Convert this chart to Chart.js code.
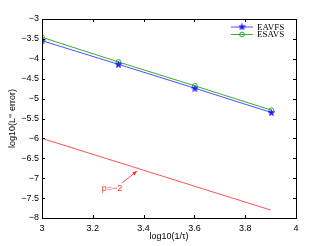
<!DOCTYPE html>
<html><head><meta charset="utf-8">
<script src="https://cdn.jsdelivr.net/npm/chart.js@4/dist/chart.umd.min.js"></script>
<style>html,body{margin:0;padding:0;background:#fff}#wrap{width:327px;height:246px}</style>
</head><body><div id="wrap"><canvas id="c" width="327" height="246"></canvas></div>
<script>
const xVals = [3, 3.301, 3.602, 3.903];
const eavfs = [-3.545, -4.14, -4.74, -5.35];
const esavs = [-3.46, -4.08, -4.68, -5.29];
const refX = [3, 3.9];
const refY = [-6, -7.8];
const seriesNames = ['EAVFS', 'ESAVS'];
const annotation = {text: 'p=\u22122', x: 3.276, y: -7.25, fromX: 3.315, fromY: -7.12, toX: 3.374, toY: -6.82};
const xTitle = 'log10(1/\u03c4)';
const yTitleParts = ['log10(L', '\u221e', ' error)'];

function pentagram(color){
  const c = document.createElement('canvas'); c.width = 7; c.height = 7;
  const g = c.getContext('2d'); g.strokeStyle = color; g.lineWidth = 0.8;
  g.beginPath();
  for (let i = 0; i < 10; i++) {
    const r = i % 2 ? 1.4 : 3.3; const a = -Math.PI/2 + i*Math.PI/5;
    const px = 3.5 + r*Math.cos(a), py = 3.8 + r*Math.sin(a);
    i ? g.lineTo(px, py) : g.moveTo(px, py);
  }
  g.closePath(); g.fillStyle = color; g.fill(); g.stroke();
  return c;
}
const starImg = pentagram('#2020ff');

const L = 42, R = 296, T = 19, B = 218;

const plug = {
  id: 'matlab',
  afterDraw(chart){
    const ctx = chart.ctx, xs = chart.scales.x, ys = chart.scales.y;
    ctx.save();
    ctx.strokeStyle = '#000'; ctx.lineWidth = 1;
    ctx.strokeRect(xs.left + 0.5, ys.top + 0.5, xs.right - xs.left, ys.bottom - ys.top);
    ctx.beginPath();
    xs.ticks.forEach(t => { const p = Math.round(xs.getPixelForValue(t.value)) + 0.5;
      ctx.moveTo(p, ys.bottom); ctx.lineTo(p, ys.bottom - 3);
      ctx.moveTo(p, ys.top); ctx.lineTo(p, ys.top + 3); });
    ys.ticks.forEach(t => { const p = Math.round(ys.getPixelForValue(t.value)) + 0.5;
      ctx.moveTo(xs.left, p); ctx.lineTo(xs.left + 3, p);
      ctx.moveTo(xs.right, p); ctx.lineTo(xs.right - 3, p); });
    ctx.stroke();
    // axis titles
    ctx.fillStyle = '#000'; ctx.font = '9px "Liberation Sans", Arial, sans-serif';
    ctx.textAlign = 'center'; ctx.textBaseline = 'middle';
    ctx.fillText(xTitle, (xs.left + xs.right)/2, 237);
    ctx.save(); ctx.translate(13, (ys.top + ys.bottom)/2); ctx.rotate(-Math.PI/2);
    ctx.textAlign = 'left';
    const big = '9px "Liberation Sans", Arial, sans-serif', small = '6px "Liberation Sans", Arial, sans-serif';
    ctx.font = big; const w0 = ctx.measureText(yTitleParts[0]).width, w2 = ctx.measureText(yTitleParts[2]).width;
    ctx.font = small; const w1 = ctx.measureText(yTitleParts[1]).width;
    let x0 = -(w0 + w1 + w2)/2;
    ctx.font = big; ctx.fillText(yTitleParts[0], x0, 0); x0 += w0;
    ctx.font = small; ctx.fillText(yTitleParts[1], x0, -3); x0 += w1;
    ctx.font = big; ctx.fillText(yTitleParts[2], x0, 0);
    ctx.restore();
    // annotation
    ctx.fillStyle = '#ff3030'; ctx.strokeStyle = '#ff3030'; ctx.lineWidth = 0.9;
    ctx.font = '9px "Liberation Sans", Arial, sans-serif';
    ctx.fillText(annotation.text, xs.getPixelForValue(annotation.x), ys.getPixelForValue(annotation.y));
    const x1 = xs.getPixelForValue(annotation.fromX), y1 = ys.getPixelForValue(annotation.fromY);
    const x2 = xs.getPixelForValue(annotation.toX), y2 = ys.getPixelForValue(annotation.toY);
    ctx.beginPath(); ctx.moveTo(x1, y1); ctx.lineTo(x2, y2); ctx.stroke();
    const a = Math.atan2(y2 - y1, x2 - x1);
    ctx.beginPath(); ctx.moveTo(x2, y2);
    ctx.lineTo(x2 - 5*Math.cos(a - 0.4), y2 - 5*Math.sin(a - 0.4));
    ctx.lineTo(x2 - 5*Math.cos(a + 0.4), y2 - 5*Math.sin(a + 0.4));
    ctx.closePath(); ctx.fill();
    // legend
    ctx.font = '9px "Liberation Serif", "Times New Roman", serif';
    ctx.textAlign = 'left';
    const items = [{c:'#3a3aff', m:'star'}, {c:'#20a020', m:'circle'}];
    items.forEach((it, i) => {
      const y = 27 + i*7.5;
      ctx.strokeStyle = it.c; ctx.lineWidth = 0.9;
      ctx.beginPath(); ctx.moveTo(231, y); ctx.lineTo(253, y); ctx.stroke();
      if (it.m === 'star') ctx.drawImage(starImg, 242 - 3.5, y - 3.8);
      else { ctx.beginPath(); ctx.arc(242, y, 2.4, 0, 2*Math.PI); ctx.stroke(); }
      ctx.fillStyle = '#000'; ctx.fillText(seriesNames[i], 257, y + 0.5);
    });
    ctx.restore();
  }
};

const mk = (xa, ya) => xa.map((x, i) => ({x, y: ya[i]}));
const tickFont = { family: '"Liberation Sans", Arial, sans-serif', size: 9 };
new Chart(document.getElementById('c'), {
  type: 'line',
  data: { datasets: [
    { label: seriesNames[0], data: mk(xVals, eavfs), borderColor: '#3a3aff', borderWidth: 0.9,
      pointStyle: starImg, pointRadius: 3.5, backgroundColor: '#2020ff' },
    { label: seriesNames[1], data: mk(xVals, esavs), borderColor: '#20a020', borderWidth: 0.9,
      pointStyle: 'circle', pointRadius: 2.4, pointBorderColor: '#20a020', pointBackgroundColor: 'rgba(0,0,0,0)', pointBorderWidth: 0.9 },
    { label: 'ref', data: mk(refX, refY), borderColor: '#ff4040', borderWidth: 0.9, pointRadius: 0 }
  ]},
  options: {
    responsive: false, animation: false, devicePixelRatio: 1,
    layout: { padding: { top: T, right: 327 - R, left: 0, bottom: 0 } },
    plugins: { legend: { display: false }, tooltip: { enabled: false } },
    scales: {
      x: { type: 'linear', min: 3, max: 4,
        afterFit: s => { s.height = 246 - B; },
        grid: { display: false, drawTicks: false, tickLength: 0 }, border: { display: false },
        ticks: { stepSize: 0.2, color: '#000', padding: 5, maxRotation: 0, font: tickFont,
          callback: v => String(Math.round(v*10)/10) } },
      y: { type: 'linear', min: -8, max: -3,
        afterFit: s => { s.width = L; },
        grid: { display: false, drawTicks: false, tickLength: 0 }, border: { display: false },
        ticks: { stepSize: 0.5, color: '#000', padding: 3, font: tickFont,
          callback: v => String(v).replace('-', '\u2212') } }
    }
  },
  plugins: [plug]
});
</script></body></html>
